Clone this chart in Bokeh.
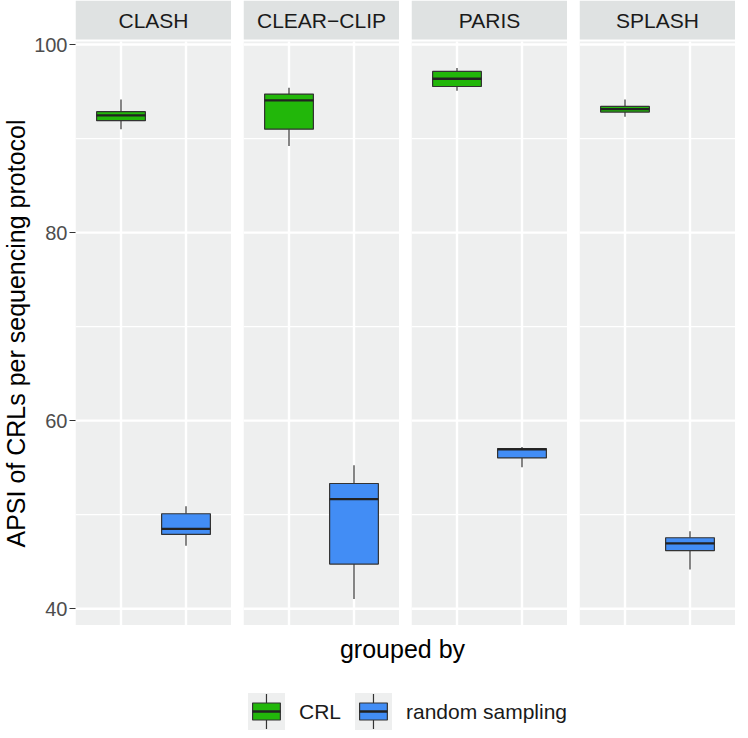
import math
from bokeh.plotting import figure
from bokeh.layouts import row, column
from bokeh.models import (ColumnDataSource, FactorRange, Range1d, FixedTicker, Span,
                          BoxAnnotation, Label)
from bokeh.transform import dodge
from bokeh.embed import file_html
from bokeh.resources import INLINE
from bokeh.core.properties import value

# ---------------- data ----------------
protocols = ["CLASH", "CLEAR\u2212CLIP", "PARIS", "SPLASH"]
groups = ["CRL", "random sampling"]
group_colors = ["#22B70A", "#428DF5"]

crl_lower = [90.98, 89.20, 95.09, 92.33]
crl_q1 = [91.90, 91.00, 95.54, 92.82]
crl_median = [92.47, 94.06, 96.36, 93.14]
crl_q3 = [92.86, 94.73, 97.14, 93.42]
crl_upper = [94.16, 95.40, 97.50, 94.16]

rs_lower = [46.70, 41.04, 55.05, 44.16]
rs_q1 = [47.90, 44.75, 56.04, 46.17]
rs_median = [48.50, 51.65, 56.95, 46.95]
rs_q3 = [50.10, 53.32, 57.03, 47.55]
rs_upper = [50.90, 55.26, 57.20, 48.25]

y_ticks = [40, 60, 80, 100]
y_minor = [50, 70, 90]
x_label = "grouped by"
y_label = "APSI of CRLs per sequencing protocol"

# ---------------- style ----------------
FONT = "Liberation Sans"
PANEL_BG = "#EEEFEF"
STRIP_BG = "#DFE2E2"
LINE = "#333333"
PANEL_W, PANEL_H, STRIP_H, GAP = 156, 584, 39, 2
LEFT, HGAP, LABEL_W = 72, 12, 31
LEG_H = 105

data_min = min(crl_lower + rs_lower)
data_max = max(crl_upper + rs_upper)
pad = 0.05 * (data_max - data_min)
y_lo, y_hi = data_min - pad, data_max + pad
upp = (y_hi - y_lo) / PANEL_H
strip_bottom = y_hi + GAP * upp
y_top = strip_bottom + STRIP_H * upp
FRAME_H = STRIP_H + GAP + PANEL_H


def clean(p):
    p.outline_line_color = None
    p.grid.grid_line_color = None
    p.background_fill_color = "white"
    p.border_fill_color = "white"


# ---------------- y-axis title (centred on the panel area) ----------------
yl = figure(x_range=Range1d(0, LABEL_W), y_range=Range1d(y_lo, y_top),
            frame_width=LABEL_W, frame_height=FRAME_H,
            output_backend="svg", toolbar_location=None,
            x_axis_location=None, y_axis_location=None, min_border=0)
clean(yl)
yl.text(x=[LABEL_W / 2], y=[(y_lo + y_hi) / 2], text=[y_label], angle=math.pi / 2,
        text_align="center", text_baseline="middle", text_font=value(FONT),
        text_font_size="25px", text_color="#000000")


def make_facet(i):
    first = i == 0
    p = figure(x_range=FactorRange(factors=groups, range_padding=0.2,
                                   range_padding_units="absolute"),
               y_range=Range1d(y_lo, y_top),
               frame_width=PANEL_W, frame_height=FRAME_H,
               output_backend="svg", toolbar_location=None,
               x_axis_location=None, y_axis_location="left" if first else None,
               min_border=0, min_border_left=(LEFT - LABEL_W) if first else HGAP)
    clean(p)

    p.add_layout(BoxAnnotation(bottom=y_lo, top=y_hi, fill_color=PANEL_BG, fill_alpha=1,
                               line_color=None, level="image"))
    for v in y_ticks:
        p.add_layout(Span(location=v, dimension="width", line_color="white",
                          line_width=2.4, level="underlay"))
    for v in y_minor:
        p.add_layout(Span(location=v, dimension="width", line_color="white",
                          line_width=1.2, level="underlay"))

    src = ColumnDataSource(dict(
        group=groups,
        lower=[crl_lower[i], rs_lower[i]],
        q1=[crl_q1[i], rs_q1[i]],
        med=[crl_median[i], rs_median[i]],
        q3=[crl_q3[i], rs_q3[i]],
        upper=[crl_upper[i], rs_upper[i]],
        color=group_colors,
    ))
    p.segment(x0="group", x1="group", y0=y_lo, y1=y_hi, source=src,
              line_color="white", line_width=2.4, level="underlay")

    p.segment(x0="group", x1="group", y0="q3", y1="upper", source=src,
              line_color=LINE, line_width=1.2)
    p.segment(x0="group", x1="group", y0="lower", y1="q1", source=src,
              line_color=LINE, line_width=1.2)
    p.vbar(x="group", width=0.75, bottom="q1", top="q3", source=src,
           fill_color="color", line_color=LINE, line_width=1.2)
    p.segment(x0=dodge("group", -0.375, range=p.x_range),
              x1=dodge("group", 0.375, range=p.x_range),
              y0="med", y1="med", source=src, line_color="#222222", line_width=2.3)

    p.add_layout(BoxAnnotation(bottom=strip_bottom, top=y_top, fill_color=STRIP_BG,
                               fill_alpha=1, line_color=None))
    p.add_layout(Label(x=1.0, y=(strip_bottom + y_top) / 2, text=protocols[i],
                       text_align="center", text_baseline="middle",
                       text_font=FONT, text_font_size="21px", text_color="#1A1A1A"))

    if first:
        ax = p.yaxis[0]
        ax.ticker = FixedTicker(ticks=y_ticks, minor_ticks=[])
        ax.axis_line_color = None
        ax.major_tick_line_color = LINE
        ax.major_tick_line_width = 1.2
        ax.major_tick_out = 6
        ax.major_tick_in = 0
        ax.minor_tick_out = 0
        ax.minor_tick_in = 0
        ax.major_label_standoff = 2
        ax.major_label_text_font = FONT
        ax.major_label_text_font_size = "20px"
        ax.major_label_text_color = "#4D4D4D"
    return p


facets = [make_facet(i) for i in range(len(protocols))]

# ---------------- legend / x label ----------------
TOTAL_W = LEFT + 4 * PANEL_W + 3 * HGAP
lg = figure(x_range=Range1d(0, TOTAL_W), y_range=Range1d(0, LEG_H),
            frame_width=TOTAL_W, frame_height=LEG_H, min_border=0,
            output_backend="svg", toolbar_location=None,
            x_axis_location=None, y_axis_location=None)
clean(lg)

panel_center = LEFT + (4 * PANEL_W + 3 * HGAP) / 2
lg.text(x=[panel_center], y=[LEG_H - 23], text=[x_label], text_align="center",
        text_baseline="middle", text_font=value(FONT), text_font_size="25px",
        text_color="#000000")

W = {"C": .722, "R": .722, "L": .556, "r": .333, "a": .556, "n": .556, "d": .556,
     "o": .556, "m": .833, " ": .278, "s": .5, "p": .556, "l": .222, "i": .222, "g": .556}


def text_w(t, size):
    return sum(W.get(c, .556) for c in t) * size


KEY, FS, KGAP = 37, 21, 14
widths = [text_w(g, FS) for g in groups]
total = sum(KEY + KGAP + w for w in widths) + KGAP * (len(groups) - 1)
xk = panel_center + 5 - total / 2
kc = 19
kl, kr, kb, kt, bx0, bx1, by0, by1, wy0, wy1, cx, tx = ([] for _ in range(12))
for g, w in zip(groups, widths):
    kl.append(xk); kr.append(xk + KEY)
    kb.append(kc - KEY / 2); kt.append(kc + KEY / 2)
    bx0.append(xk + KEY * 0.125); bx1.append(xk + KEY * 0.875)
    by0.append(kc - 8.5); by1.append(kc + 8.5)
    wy0.append(kc - KEY / 2 + 1); wy1.append(kc + KEY / 2 - 1)
    cx.append(xk + KEY / 2)
    tx.append(xk + KEY + KGAP)
    xk += KEY + KGAP + w + KGAP
ls = ColumnDataSource(dict(kl=kl, kr=kr, kb=kb, kt=kt, bx0=bx0, bx1=bx1, by0=by0, by1=by1,
                           wy0=wy0, wy1=wy1, cx=cx, tx=tx, col=group_colors, label=groups,
                           kc=[kc] * len(groups)))
lg.quad(left="kl", right="kr", bottom="kb", top="kt", source=ls,
        fill_color=PANEL_BG, line_color=None)
lg.segment(x0="cx", x1="cx", y0="wy0", y1="wy1", source=ls, line_color=LINE, line_width=1.2)
lg.quad(left="bx0", right="bx1", bottom="by0", top="by1", source=ls,
        fill_color="col", line_color=LINE, line_width=1.2)
lg.segment(x0="bx0", x1="bx1", y0="kc", y1="kc", source=ls, line_color="#222222",
           line_width=2.3)
lg.text(x="tx", y="kc", text="label", source=ls, text_align="left", text_baseline="middle",
        text_font=value(FONT), text_font_size=f"{FS}px", text_color="#1A1A1A")

layout = column(row(yl, *facets), lg)
open("out.html", "w").write(file_html(layout, INLINE))
